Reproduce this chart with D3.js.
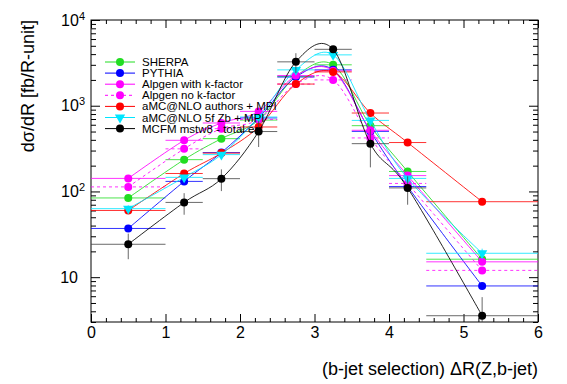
<!DOCTYPE html>
<html>
<head>
<meta charset="utf-8">
<script src="https://cdn.jsdelivr.net/npm/d3@7"></script>
<style>
  html, body { margin: 0; padding: 0; background: #fff; }
  svg { display: block; font-family: "Liberation Sans", Arial, Helvetica, sans-serif; }
  .axis path.domain { display: none; }
  .axis line { stroke: #000; }
</style>
</head>
<body>
<div id="chart"></div>
<script>
// dR(Z,b-jet) distribution, b-jet selection: generators vs MCFM
const binEdges = [0, 1, 1.5, 2, 2.5, 3, 3.5, 4, 4.5, 6];
const binCenters = [0.5, 1.25, 1.75, 2.25, 2.75, 3.25, 3.75, 4.25, 5.25];

const sherpa     = [84, 235, 413, 680, 2200, 3000, 585, 171, 16.2];
const pythia     = [37, 131, 284, 720, 2160, 2620, 502, 114, 7.9];
const alpgenK    = [142, 395, 629, 859, 2250, 2550, 517, 153, 15.1];
const alpgenNoK  = [113, 314, 540, 690, 1790, 2000, 421, 124, 12.0];
const amcAuthors = [60, 162, 280, 565, 1790, 2480, 822, 372, 75.9];
const amc5f      = [63, 146, 269, 739, 2620, 3920, 674, 142, 19.0];
const amc5fErr   = [6, 10, 15, 40, 150, 250, 40, 10, 2.5];
const mcfm       = [24.2, 74.5, 141, 500, 3250, 4550, 361, 110, 3.55];
const mcfmErr    = [8, 21, 40, 170, 850, 300, 170, 40, 2.3];

const seriesNames = ['SHERPA', 'PYTHIA', 'Alpgen with k-factor', 'Alpgen no k-factor',
  'aMC@NLO authors + MPI', 'aMC@NLO 5f Zb + MPI', 'MCFM mstw8 - total err'];

const xTicks = [0, 1, 2, 3, 4, 5, 6];
const yDecades = [10, 100, 1000, 10000];

const series = [
  { name: seriesNames[0], values: sherpa, color: '#22dd22', marker: 'circle' },
  { name: seriesNames[1], values: pythia, color: '#0000ff', marker: 'circle' },
  { name: seriesNames[2], values: alpgenK, color: '#ff00ff', marker: 'circle' },
  { name: seriesNames[3], values: alpgenNoK, color: '#ff00ff', marker: 'circle', dash: '3 3' },
  { name: seriesNames[4], values: amcAuthors, color: '#ff0000', marker: 'circle' },
  { name: seriesNames[5], values: amc5f, errs: amc5fErr, color: '#00e5ff', marker: 'triangle' },
  { name: seriesNames[6], values: mcfm, errs: mcfmErr, color: '#000000', marker: 'circle', barColor: '#444' },
];

const W = 567, H = 384;
const m = { top: 20, right: 29, bottom: 62, left: 91 };
const iw = W - m.left - m.right;
const ih = H - m.top - m.bottom;
const FONT = '"Liberation Sans", Arial, sans-serif';

const svg = d3.select('#chart').append('svg').attr('width', W).attr('height', H);
const g = svg.append('g').attr('transform', `translate(${m.left},${m.top})`);

const x = d3.scaleLinear().domain([0, 6]).range([0, iw]);
const y = d3.scaleLog().domain([3, 10000]).range([ih, 0]);

g.append('defs').append('clipPath').attr('id', 'plotclip')
  .append('rect').attr('width', iw).attr('height', ih);

// minor ticks
const xMinor = d3.range(0, 6.001, 0.2).filter(v => Math.abs(v - Math.round(v)) > 1e-6);
const yMinor = [];
[1, 10, 100, 1000].forEach(d => { for (let k = 2; k <= 9; k++) if (d * k >= 3) yMinor.push(d * k); });

g.append('g').attr('class', 'axis').attr('transform', `translate(0,${ih})`)
  .call(d3.axisBottom(x).tickValues(xMinor).tickSize(-4).tickFormat(''));
g.append('g').attr('class', 'axis')
  .call(d3.axisTop(x).tickValues(xMinor).tickSize(-4).tickFormat(''));
g.append('g').attr('class', 'axis')
  .call(d3.axisTop(x).tickValues(xTicks).tickSize(-8).tickFormat(''));
g.append('g').attr('class', 'axis')
  .call(d3.axisLeft(y).tickValues(yMinor).tickSize(-5).tickFormat(''));
g.append('g').attr('class', 'axis').attr('transform', `translate(${iw},0)`)
  .call(d3.axisRight(y).tickValues(yMinor).tickSize(-5).tickFormat(''));
g.append('g').attr('class', 'axis').attr('transform', `translate(${iw},0)`)
  .call(d3.axisRight(y).tickValues(yDecades).tickSize(-9).tickFormat(''));

const xAxisG = g.append('g').attr('class', 'axis').attr('transform', `translate(0,${ih})`)
  .call(d3.axisBottom(x).tickValues(xTicks).tickSize(-8).tickPadding(5).tickFormat(d3.format('d')));
xAxisG.selectAll('text').attr('font-size', 16).attr('fill', '#000').attr('font-family', FONT);

const yAxisG = g.append('g').attr('class', 'axis')
  .call(d3.axisLeft(y).tickValues(yDecades).tickSize(-9).tickPadding(6).tickFormat(''));
yAxisG.selectAll('.tick text').each(function (d) {
  const t = d3.select(this).attr('font-size', 16).attr('fill', '#000')
    .attr('font-family', FONT).attr('text-anchor', 'end');
  const exp = Math.round(Math.log10(d));
  if (exp === 1) {
    t.attr('x', -13).text('10');
  } else {
    t.attr('x', -6).text('10');
    t.append('tspan').attr('font-size', 11).attr('dy', '-0.55em').text(exp);
  }
});

g.append('rect').attr('width', iw).attr('height', ih)
  .attr('fill', 'none').attr('stroke', '#000');

// data
const lineGen = d3.line()
  .x((d, i) => x(binCenters[i]))
  .y(d => y(d))
  .curve(d3.curveCatmullRom.alpha(0));

const plot = g.append('g').attr('clip-path', 'url(#plotclip)');
const triangle = d3.symbol().type(d3.symbolTriangle).size(46);

series.forEach(s => {
  const sg = plot.append('g');
  const bar = s.barColor || s.color;
  sg.append('path').attr('d', lineGen(s.values))
    .attr('fill', 'none').attr('stroke', s.color).attr('stroke-width', 1)
    .attr('stroke-opacity', 0.85).attr('stroke-dasharray', s.dash || null);
  // horizontal bin-width bars
  sg.selectAll('line.hbar').data(s.values).join('line').attr('class', 'hbar')
    .attr('x1', (d, i) => x(binEdges[i])).attr('x2', (d, i) => x(binEdges[i + 1]))
    .attr('y1', d => y(d)).attr('y2', d => y(d))
    .attr('stroke', bar).attr('stroke-width', 1).attr('stroke-opacity', 0.8)
    .attr('stroke-dasharray', s.dash || null);
  if (s.errs) {
    sg.selectAll('line.vbar').data(s.values).join('line').attr('class', 'vbar')
      .attr('x1', (d, i) => x(binCenters[i])).attr('x2', (d, i) => x(binCenters[i]))
      .attr('y1', (d, i) => y(Math.max(d - s.errs[i], 1)))
      .attr('y2', (d, i) => y(d + s.errs[i]))
      .attr('stroke', bar).attr('stroke-width', 1).attr('stroke-opacity', 0.8);
  }
  if (s.marker === 'triangle') {
    sg.selectAll('path.mk').data(s.values).join('path').attr('class', 'mk')
      .attr('d', triangle)
      .attr('transform', (d, i) => `translate(${x(binCenters[i])},${y(d)}) rotate(180)`)
      .attr('fill', s.color);
  } else {
    sg.selectAll('circle.mk').data(s.values).join('circle').attr('class', 'mk')
      .attr('cx', (d, i) => x(binCenters[i])).attr('cy', d => y(d))
      .attr('r', 4).attr('fill', s.color);
  }
});

// legend
const leg = svg.append('g').attr('transform', 'translate(105,62)');
series.forEach((s, i) => {
  const row = leg.append('g').attr('transform', `translate(0,${i * 11.1})`);
  row.append('line').attr('x1', 0).attr('x2', 30)
    .attr('stroke', s.color).attr('stroke-dasharray', s.dash || null);
  if (s.marker === 'triangle') {
    row.append('path').attr('d', triangle).attr('transform', 'translate(15,0) rotate(180)')
      .attr('fill', s.color);
  } else {
    row.append('circle').attr('cx', 15).attr('r', 4).attr('fill', s.color);
  }
  row.append('text').attr('x', 37).attr('y', 4).attr('font-size', 11.5).text(s.name);
});

// titles
svg.append('text').attr('x', m.left + iw).attr('y', 375)
  .attr('text-anchor', 'end').attr('font-size', 18)
  .text('(b-jet selection) \u0394R(Z,b-jet)');
svg.append('text').attr('transform', 'translate(34,20) rotate(-90)')
  .attr('text-anchor', 'end').attr('font-size', 18)
  .text('d\u03c3/dR [fb/R-unit]');
</script>
</body>
</html>
